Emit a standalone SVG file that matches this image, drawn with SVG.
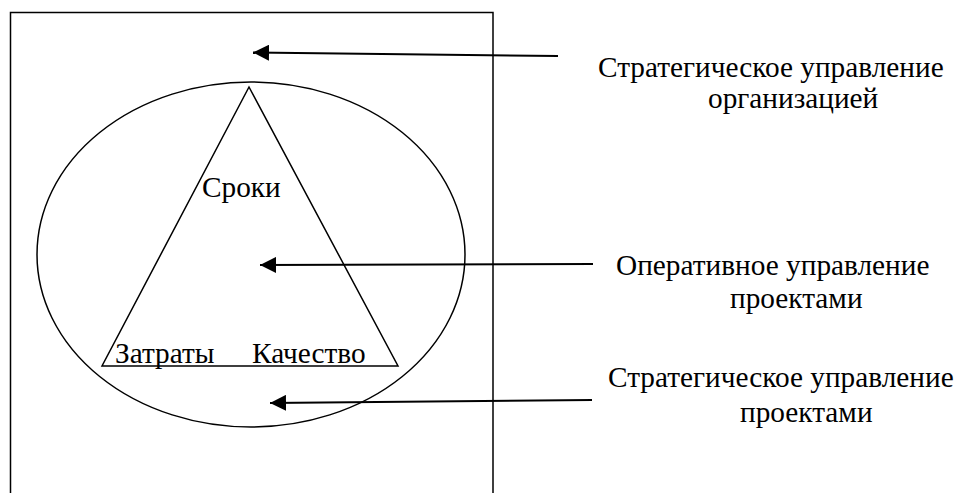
<svg xmlns="http://www.w3.org/2000/svg" width="960" height="493" viewBox="0 0 960 493">
<style>
.ln{fill:none;stroke:#000;stroke-width:1.5}
.ar{fill:none;stroke:#000;stroke-width:2}
.t{font-family:"Liberation Serif","Times New Roman",serif;font-size:29.3px;fill:#000}
</style>
<defs>
<marker id="ah" viewBox="0 0 16 16" refX="16" refY="8" markerWidth="16" markerHeight="16" markerUnits="userSpaceOnUse" orient="auto">
<path d="M0,0 L16,8 L0,16 Z" fill="#000"/>
</marker>
</defs>
<rect width="960" height="493" fill="#fff"/>
<g id="frame"><path class="ln" d="M10.5,493 V12.5 H493 V493"/></g>
<g id="ellipse"><ellipse class="ln" cx="251" cy="254.5" rx="214" ry="172.5"/></g>
<g id="triangle"><path class="ln" d="M249,87 L102,366 H398 Z"/></g>
<g id="labels-inner">
<text class="t" x="202" y="197">Сроки</text>
<text class="t" x="115" y="363">Затраты</text>
<text class="t" x="252" y="363">Качество</text>
</g>
<g id="connectors">
<line class="ar" x1="558" y1="56" x2="253" y2="52.5" marker-end="url(#ah)"/>
<line class="ar" x1="593" y1="264" x2="260" y2="265" marker-end="url(#ah)"/>
<line class="ar" x1="592" y1="400" x2="270" y2="403" marker-end="url(#ah)"/>
</g>
<g id="label1">
<text class="t" x="598" y="77">Стратегическое управление</text>
<text class="t" x="708" y="108">организацией</text>
</g>
<g id="label2">
<text class="t" x="616" y="275">Оперативное управление</text>
<text class="t" x="730" y="308">проектами</text>
</g>
<g id="label3">
<text class="t" x="608" y="387">Стратегическое управление</text>
<text class="t" x="740" y="422">проектами</text>
</g>
</svg>
